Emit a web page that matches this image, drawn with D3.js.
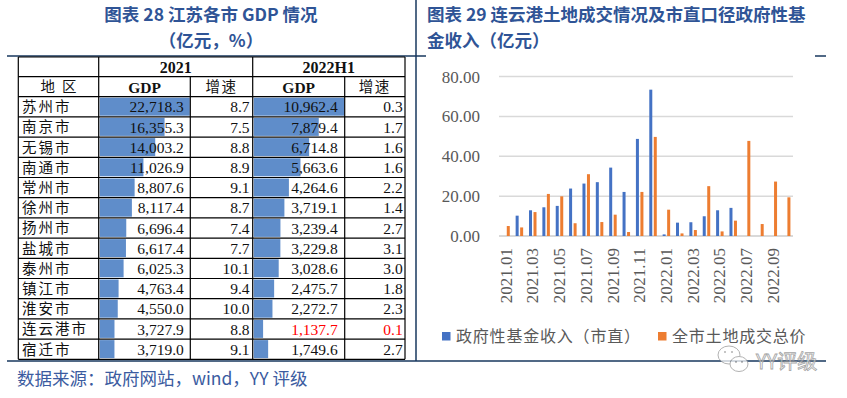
<!DOCTYPE html>
<html>
<head>
<meta charset="utf-8">
<script src="https://cdn.jsdelivr.net/npm/d3@7"></script>
<style>
  html, body { margin: 0; padding: 0; background: #fff; }
  svg { display: block; }
</style>
</head>
<body>
<div id="chart"></div>
<script>
'use strict';

// left table: Jiangsu cities GDP
const cities = ['苏州市', '南京市', '无锡市', '南通市', '常州市', '徐州市', '扬州市',
  '盐城市', '泰州市', '镇江市', '淮安市', '连云港市', '宿迁市'];
const gdp2021 = [22718.3, 16355.3, 14003.2, 11026.9, 8807.6, 8117.4, 6696.4,
  6617.4, 6025.3, 4763.4, 4550.0, 3727.9, 3719.0];
const growth2021 = [8.7, 7.5, 8.8, 8.9, 9.1, 8.7, 7.4, 7.7, 10.1, 9.4, 10.0, 8.8, 9.1];
const gdpH1 = [10962.4, 7879.4, 6714.8, 5663.6, 4264.6, 3719.1, 3239.4,
  3229.8, 3028.6, 2475.7, 2272.7, 1137.7, 1749.6];
const growthH1 = [0.3, 1.7, 1.6, 1.6, 2.2, 1.4, 2.7, 3.1, 3.0, 1.8, 2.3, 0.1, 2.7];
const highlightCity = '连云港市';

// right chart: Lianyungang land sales & fund income
const months = ['2021.01', '2021.02', '2021.03', '2021.04', '2021.05', '2021.06',
  '2021.07', '2021.08', '2021.09', '2021.10', '2021.11', '2021.12',
  '2022.01', '2022.02', '2022.03', '2022.04', '2022.05', '2022.06',
  '2022.07', '2022.08', '2022.09', '2022.10'];
const fundIncome = [null, 10.2, 12.9, 14.4, 15.1, 23.8, 26.3, 27.0, 34.3, 22.1, 48.7, 73.4,
  0.8, 6.7, 6.9, 9.9, 12.9, 14.1, null, null, null, null];
const landTotal = [5.0, 4.3, 12.0, 21.1, 19.9, 6.4, 31.0, 7.0, 10.7, 2.0, 22.1, 49.7,
  13.2, 1.3, 3.0, 25.0, 2.3, 7.7, 47.7, 6.0, 27.3, 19.4];
const yTicks = [0, 20, 40, 60, 80];
const seriesNames = ['政府性基金收入（市直）', '全市土地成交总价'];
const seriesColors = ['#4472C4', '#ED7D31'];

const W = 847, H = 398;
const navy = '#17375E';
const titleBlue = '#2F5496';
const cjk = '"Noto Sans CJK SC", sans-serif';
const serif = '"Liberation Serif", "Noto Sans CJK SC", serif';

const svg = d3.select('#chart').append('svg')
  .attr('width', W).attr('height', H);

// frame lines
function line(x1, y1, x2, y2, color, w) {
  svg.append('line')
    .attr('x1', x1).attr('y1', y1).attr('x2', x2).attr('y2', y2)
    .attr('stroke', color).attr('stroke-width', w);
}
line(7, 56, 426, 56, navy, 1.5);
line(815, 56, 826, 56, navy, 1.5);
line(7, 361, 826, 361, navy, 1.5);
line(416, 0, 416, 361, navy, 1.5);

// titles
function title(x, y, txt, anchor, size, weight, color) {
  svg.append('text')
    .attr('x', x).attr('y', y)
    .attr('text-anchor', anchor)
    .style('font-family', cjk)
    .style('font-size', size + 'px')
    .style('font-weight', weight)
    .attr('fill', color)
    .text(txt);
}
title(211, 20.5, '图表 28 江苏各市 GDP 情况', 'middle', 17.5, 700, titleBlue);
title(211, 47, '（亿元，%）', 'middle', 17.5, 700, titleBlue);
title(427, 20.5, '图表 29 连云港土地成交情况及市直口径政府性基', 'start', 17.5, 700, titleBlue);
title(427, 47, '金收入（亿元）', 'start', 17.5, 700, titleBlue);
title(17, 385, '数据来源：政府网站，wind，YY 评级', 'start', 17.5, 400, '#3B5BA0');

// ---------- table ----------
function makeTable() {
  const colX = [18.3, 98.7, 190.3, 252.7, 344.7, 405];
  const top = 57, h1 = 76.7, h2 = 96.7, rowH = 20.2;
  const bottom = h2 + rowH * cities.length;
  const t = svg.append('g').attr('class', 'table');

  const bar2021 = d3.scaleLinear().domain([0, d3.max(gdp2021)]).range([0, colX[2] - colX[1] - 1.5]);
  const barH1 = d3.scaleLinear().domain([0, d3.max(gdpH1)]).range([0, colX[4] - colX[3] - 1.5]);
  const fmt = d3.format(',.1f');

  const rows = t.selectAll('.row')
    .data(cities.map(function(c, i) {
      return { city: c, g1: gdp2021[i], r1: growth2021[i], g2: gdpH1[i], r2: growthH1[i] };
    }))
    .enter().append('g')
    .attr('class', 'row')
    .attr('transform', function(d, i) { return 'translate(0,' + (h2 + i * rowH) + ')'; });

  rows.append('rect')
    .attr('x', colX[1] + 1).attr('y', 1)
    .attr('width', function(d) { return bar2021(d.g1); })
    .attr('height', rowH - 2.2)
    .attr('fill', '#5F8DCA');
  rows.append('rect')
    .attr('x', colX[3] + 1).attr('y', 1)
    .attr('width', function(d) { return barH1(d.g2); })
    .attr('height', rowH - 2.2)
    .attr('fill', '#5F8DCA');

  rows.append('text')
    .attr('x', 22).attr('y', 15.5)
    .style('font-family', cjk).style('font-size', '14.5px')
    .style('letter-spacing', '2px')
    .attr('fill', '#111')
    .text(function(d) { return d.city; });

  function num(x, key, f) {
    rows.append('text')
      .attr('x', x).attr('y', 15.8)
      .attr('text-anchor', 'end')
      .style('font-family', serif).style('font-size', '15.5px')
      .attr('fill', function(d) { return (d.city === highlightCity && (key === 'g2' || key === 'r2')) ? '#FF0000' : '#111'; })
      .text(function(d) { return f(d[key]); });
  }
  num(colX[2] - 6.5, 'g1', fmt);
  num(colX[3] - 3.2, 'r1', d3.format('.1f'));
  num(colX[4] - 7, 'g2', fmt);
  num(colX[5] - 2.3, 'r2', d3.format('.1f'));

  // headers
  function head(x, y, txt, font, size, weight, ls) {
    t.append('text')
      .attr('x', x).attr('y', y)
      .attr('text-anchor', 'middle')
      .style('font-family', font).style('font-size', size + 'px')
      .style('font-weight', weight)
      .style('letter-spacing', ls + 'px')
      .attr('fill', '#111')
      .text(txt);
  }
  head((colX[1] + colX[3]) / 2, 72.5, '2021', serif, 16, 700, 0);
  head((colX[3] + colX[5]) / 2, 72.5, '2022H1', serif, 16, 700, 0);
  head((colX[0] + colX[1]) / 2 + 3.5, 92, '地区', cjk, 14.5, 400, 7);
  head((colX[1] + colX[2]) / 2, 92.5, 'GDP', serif, 15.5, 700, 0);
  head((colX[2] + colX[3]) / 2, 92, '增速', cjk, 14.5, 400, 1.5);
  head((colX[3] + colX[4]) / 2, 92.5, 'GDP', serif, 15.5, 700, 0);
  head((colX[4] + colX[5]) / 2, 92, '增速', cjk, 14.5, 400, 1.5);

  // grid lines
  const lw = 1.2;
  function tl(x1, y1, x2, y2) {
    t.append('line').attr('x1', x1).attr('y1', y1).attr('x2', x2).attr('y2', y2)
      .attr('stroke', '#000').attr('stroke-width', lw);
  }
  tl(colX[0], top, colX[5], top);
  tl(colX[0], h1, colX[5], h1);
  for (let i = 0; i <= cities.length; i++) {
    tl(colX[0], h2 + i * rowH, colX[5], h2 + i * rowH);
  }
  tl(colX[0], top, colX[0], bottom);
  tl(colX[1], top, colX[1], bottom);
  tl(colX[2], h1, colX[2], bottom);
  tl(colX[3], top, colX[3], bottom);
  tl(colX[4], h1, colX[4], bottom);
  tl(colX[5], top, colX[5], bottom);
}

// ---------- bar chart ----------
function makeBarChart() {
  const g = svg.append('g').attr('class', 'bars');
  const x = d3.scaleBand().domain(months).range([499, 793]);
  const y = d3.scaleLinear().domain([0, 80]).range([236, 76.5]);
  const grey = '#595959';

  g.selectAll('.grid')
    .data(yTicks)
    .enter().append('line')
    .attr('x1', 499).attr('x2', 793)
    .attr('y1', function(d) { return y(d); })
    .attr('y2', function(d) { return y(d); })
    .attr('stroke', '#D9D9D9')
    .attr('stroke-width', function(d) { return d === 0 ? 2 : 1.5; });

  g.selectAll('.ytick')
    .data(yTicks)
    .enter().append('text')
    .attr('x', 480)
    .attr('y', function(d) { return y(d) + 6; })
    .attr('text-anchor', 'end')
    .style('font-family', serif).style('font-size', '17px')
    .attr('fill', grey)
    .text(function(d) { return d3.format('.2f')(d); });

  const series = [fundIncome, landTotal];
  const offsets = [-3.4, 1.1];
  series.forEach(function(vals, s) {
    g.selectAll('.bar' + s)
      .data(months.map(function(m, i) { return { m: m, v: vals[i] }; })
        .filter(function(d) { return d.v !== null; }))
      .enter().append('rect')
      .attr('x', function(d) { return x(d.m) + x.bandwidth() / 2 + offsets[s]; })
      .attr('y', function(d) { return y(d.v); })
      .attr('width', 3)
      .attr('height', function(d) { return y(0) - y(d.v); })
      .attr('fill', seriesColors[s]);
  });

  g.selectAll('.xlab')
    .data(months.filter(function(m, i) { return i % 2 === 0; }))
    .enter().append('text')
    .attr('transform', function(d) {
      return 'translate(' + (x(d) + x.bandwidth() / 2) + ',248) rotate(-90)';
    })
    .attr('dy', '0.35em')
    .attr('text-anchor', 'end')
    .style('font-family', serif).style('font-size', '17px')
    .attr('fill', grey)
    .text(function(d) { return d; });

  // legend
  const lx = [442, 658];
  seriesNames.forEach(function(name, s) {
    g.append('rect')
      .attr('x', lx[s]).attr('y', 332)
      .attr('width', 8.5).attr('height', 8.5)
      .attr('fill', seriesColors[s]);
    g.append('text')
      .attr('x', lx[s] + 14).attr('y', 342)
      .style('font-family', cjk).style('font-size', '16px')
      .style('letter-spacing', '0.8px')
      .attr('fill', grey)
      .text(name);
  });
}

// watermark
function makeWatermark() {
  const w = svg.append('g').attr('opacity', 0.75);
  w.append('ellipse').attr('cx', 729).attr('cy', 355).attr('rx', 11).attr('ry', 9)
    .attr('fill', '#fff').attr('stroke', '#999').attr('stroke-width', 1);
  w.append('ellipse').attr('cx', 739).attr('cy', 364).attr('rx', 9).attr('ry', 7.5)
    .attr('fill', '#fff').attr('stroke', '#999').attr('stroke-width', 1);
  [[725, 352], [732, 352], [736, 362], [742, 362]].forEach(function(p) {
    w.append('circle').attr('cx', p[0]).attr('cy', p[1]).attr('r', 1).attr('fill', '#999');
  });
  w.append('text')
    .attr('x', 756).attr('y', 369)
    .style('font-family', cjk).style('font-size', '20px')
    .attr('fill', '#fff').attr('stroke', '#888').attr('stroke-width', 0.8)
    .text('YY评级');
}

makeTable();
makeBarChart();
makeWatermark();
</script>
</body>
</html>
